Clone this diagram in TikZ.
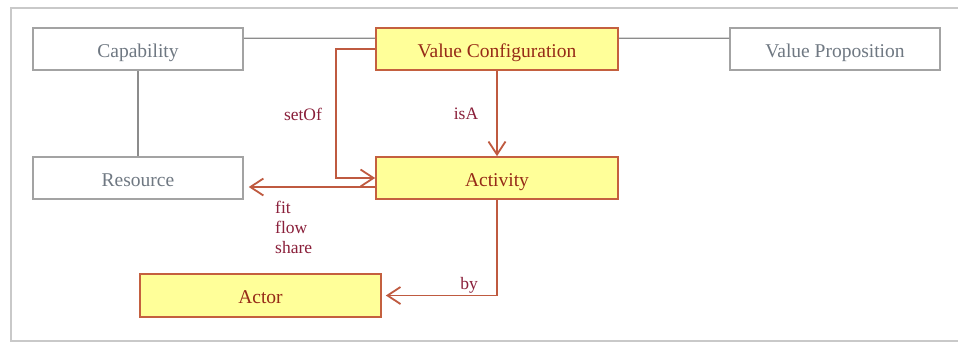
\documentclass[tikz,border=0pt]{standalone}
\usepackage{fontspec}
\setmainfont{Liberation Serif}
\usetikzlibrary{arrows.meta}
\definecolor{framegray}{HTML}{C9C9C9}
\definecolor{boxgray}{HTML}{A3A3A3}
\definecolor{textgray}{HTML}{6F7882}
\definecolor{linegray}{HTML}{8C8C8C}
\definecolor{conceptfill}{HTML}{FFFF99}
\definecolor{conceptedge}{HTML}{C4603F}
\definecolor{concepttext}{HTML}{962A17}
\definecolor{relred}{HTML}{BF5A40}
\definecolor{reltext}{HTML}{8A1F3A}
\tikzset{
  boxtext/.style={font=\fontsize{19.5}{22}\selectfont, text height=17pt, text depth=1pt,
    inner sep=0pt, minimum height=42pt},
  plainbox/.style={boxtext, draw=boxgray, line width=1.5pt, fill=white, text=textgray,
    minimum width=210pt},
  conceptbox/.style={boxtext, draw=conceptedge, line width=1.7pt, fill=conceptfill, text=concepttext,
    minimum width=242pt},
  assoc/.style={draw=linegray, line width=1.3pt},
  rel/.style={draw=relred, line width=1.8pt,
    -{Straight Barb[length=13pt,width=17pt,line width=1.8pt]}},
  rellabel/.style={text=reltext, inner sep=0pt, font=\fontsize{17.5}{20}\selectfont},
}
\begin{document}
\begin{tikzpicture}[x=1pt, y=-1pt]
  \useasboundingbox (0,0) rectangle (958,343);
  \fill[white] (0,0) rectangle (958,343);
  % outer frame, open on the right
  \draw[framegray, line width=2pt] (962,8) -- (11,8) -- (11,341) -- (962,341);

  % concept boxes
  \node[plainbox]   (cap)   at (138,49)    {Capability};
  \node[conceptbox] (vc)    at (497,49)    {Value Configuration};
  \node[plainbox]   (vp)    at (835,49)    {Value Proposition};
  \node[plainbox]   (res)   at (138,178)   {Resource};
  \node[conceptbox] (act)   at (497,178)   {Activity};
  \node[conceptbox, minimum width=241pt, minimum height=43pt] (actor) at (260.5,295.5) {Actor};

  % plain associations
  \draw[assoc] ([yshift=-11pt]cap.north east) -- ([yshift=-11pt]vc.north west);
  \draw[assoc] ([yshift=-11pt]vc.north east) -- ([yshift=-11pt]vp.north west);
  \draw[assoc] (cap.south) -- (res.north);

  % typed relations
  \draw[rel] (vc.west) -- ++(-39,0) coordinate (bend) |- (act.west);
  \draw[rel] (vc.south) -- (act.north);
  \draw[rel] ([yshift=-9pt]act.west) -- ([xshift=5pt,yshift=-9pt]res.east);
  \draw[rel] (act.south) |- ([xshift=4pt]actor.east);

  % relation labels
  \node[rellabel] (lset) at (303,114) {setOf};
  \node[rellabel] (lisa) at (466,114) {isA};
  \node[rellabel, anchor=west, align=left] (lfit) at (275,227) {fit\\flow\\share};
  \node[rellabel] (lby) at (469,285) {by};
\end{tikzpicture}
\end{document}
